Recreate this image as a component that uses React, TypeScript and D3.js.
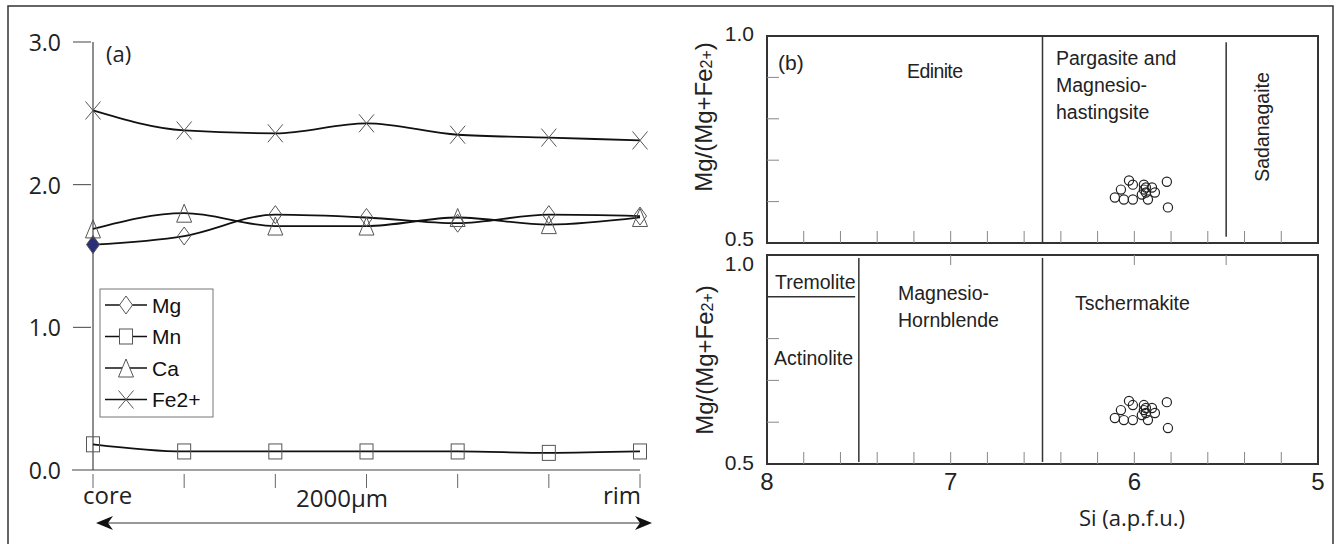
import * as d3 from "d3";

// ---- panel (a): core-to-rim profile ----
const profileSteps = ["core", "", "", "", "", "", "rim"];
const mgValues = [1.58, 1.64, 1.79, 1.77, 1.73, 1.79, 1.78];
const mnValues = [0.18, 0.13, 0.13, 0.13, 0.13, 0.12, 0.13];
const caValues = [1.69, 1.80, 1.71, 1.71, 1.77, 1.72, 1.77];
const feValues = [2.52, 2.38, 2.36, 2.43, 2.35, 2.33, 2.31];
const seriesNames = ["Mg", "Mn", "Ca", "Fe2+"];
const seriesShapes = ["diamond", "square", "triangle", "cross"];
const yTicksA = [0, 1, 2, 3];

// ---- panel (b): amphibole classification ----
const siValues = [6.106, 6.057, 6.008, 6.073, 6.029, 6.008, 5.948, 5.948, 5.937, 5.926, 5.888, 5.904, 5.823, 5.817, 5.959, 5.937];
const mgNumbers = [0.610, 0.605, 0.605, 0.629, 0.651, 0.641, 0.641, 0.629, 0.622, 0.605, 0.622, 0.634, 0.648, 0.586, 0.617, 0.634];
const siTickLabels = [8, 7, 6, 5];
const siMinorTicks = [7.8, 7.6, 7.4, 7.2, 7.0, 6.8, 6.6, 6.4, 6.2, 6.0, 5.8, 5.6, 5.4, 5.2];
const mgMinorTicks = [0.6, 0.7, 0.8, 0.9];

const axisFont = "'Open Sans', 'DejaVu Sans', sans-serif";
const helv = "'Liberation Sans', Arial, sans-serif";

function Marker({ shape, x, y, fill = "none" }: { shape: string; x: number; y: number; fill?: string }) {
  const st = { stroke: "#555", strokeWidth: 1, fill };
  if (shape === "diamond") return <path d={`M${x},${y - 9}L${x + 6.5},${y}L${x},${y + 9}L${x - 6.5},${y}Z`} {...st} />;
  if (shape === "square") return <rect x={x - 6.5} y={y - 7.5} width={13} height={15} {...st} />;
  if (shape === "triangle") return <path d={`M${x},${y - 9}L${x + 7.5},${y + 9}L${x - 7.5},${y + 9}Z`} {...st} />;
  return <path d={`M${x - 7.5},${y - 9}L${x + 7.5},${y + 9}M${x + 7.5},${y - 9}L${x - 7.5},${y + 9}`} stroke="#555" strokeWidth={1} fill="none" />;
}

function PanelA() {
  const x = d3.scalePoint<number>().domain(d3.range(profileSteps.length)).range([93, 640]);
  const y = d3.scaleLinear().domain([0, 3]).range([470, 42]);
  const line = d3.line<number>().x((_, i) => x(i)!).y(d => y(d)).curve(d3.curveMonotoneX);
  const allSeries = [mgValues, mnValues, caValues, feValues];

  return (
    <g>
      {/* axes */}
      <line x1={93} x2={93} y1={y(3)} y2={y(0)} stroke="#444" strokeWidth={1.2} />
      <line x1={72} x2={640} y1={y(0)} y2={y(0)} stroke="#444" strokeWidth={1.2} />
      {yTicksA.map(t => (
        <g key={t}>
          {t > 0 && <line x1={73} x2={91} y1={y(t)} y2={y(t)} stroke="#444" strokeWidth={1} />}
          <text x={61} y={y(t)} textAnchor="end" dominantBaseline="central" fontFamily={axisFont} fontSize={23} fill="#222">
            {t.toFixed(1)}
          </text>
        </g>
      ))}
      {profileSteps.map((s, i) => (
        <line key={i} x1={x(i)} x2={x(i)} y1={474} y2={488} stroke="#666" strokeWidth={1} />
      ))}
      <text x={x(0)! - 10} y={504} fontFamily={axisFont} fontSize={24} fill="#222">{profileSteps[0]}</text>
      <text x={x(6)! + 1} y={504} textAnchor="end" fontFamily={axisFont} fontSize={24} fill="#222">{profileSteps[6]}</text>
      <text x={342} y={507} textAnchor="middle" fontFamily={axisFont} fontSize={24} fill="#222">2000μm</text>
      <text x={106} y={53} dominantBaseline="central" fontFamily={axisFont} fontSize={22} fill="#222">(a)</text>

      {/* double arrow */}
      <line x1={100} x2={648} y1={523} y2={523} stroke="#333" strokeWidth={1.2} />
      <path d="M96,523 L113,516 L108,523 L113,530 Z" fill="#111" />
      <path d="M652,523 L635,516 L640,523 L635,530 Z" fill="#111" />

      {/* lines */}
      {allSeries.map((vals, k) => (
        <path key={k} d={line(vals)!} fill="none" stroke="#111" strokeWidth={1.8} />
      ))}
      {/* markers */}
      {allSeries.map((vals, k) =>
        vals.map((v, i) => (
          <Marker key={`${k}-${i}`} shape={seriesShapes[k]} x={x(i)!} y={y(v)}
            fill={k === 0 && i === 0 ? "#2b2f78" : "none"} />
        ))
      )}

      {/* legend */}
      <rect x={100} y={289} width={113} height={128} fill="white" stroke="#777" strokeWidth={1} />
      {seriesNames.map((n, k) => {
        const ly = 305 + k * 31.5;
        return (
          <g key={n}>
            <line x1={105} x2={147} y1={ly} y2={ly} stroke="#111" strokeWidth={1.3} />
            <Marker shape={seriesShapes[k]} x={126} y={ly} fill={k === 3 ? "none" : "white"} />
            <text x={152} y={ly} dominantBaseline="central" fontFamily={helv} fontSize={21} fill="#111">{n}</text>
          </g>
        );
      })}
    </g>
  );
}

function YTitle({ cx, cy }: { cx: number; cy: number }) {
  return (
    <text transform={`translate(${cx},${cy}) rotate(-90)`} textAnchor="middle" dominantBaseline="central"
      fontFamily={helv} fontSize={24} fill="#222">
      Mg/(Mg+Fe<tspan fontSize={16} dy={3}>2+</tspan><tspan dy={-3}>)</tspan>
    </text>
  );
}

function PanelB() {
  const x = d3.scaleLinear().domain([8, 5]).range([767, 1318]);
  const yTop = d3.scaleLinear().domain([0.5, 1]).range([243, 36]);
  const yBot = d3.scaleLinear().domain([0.5, 1]).range([464, 255]);
  const pts = siValues.map((s, i) => [s, mgNumbers[i]]);
  const boxStroke = "#333";
  const tickStroke = "#888";
  const labelProps = { fontFamily: helv, fontSize: 19.5, fill: "#222" };

  return (
    <g>
      {/* top box */}
      <rect x={x(8)} y={yTop(1)} width={x(5) - x(8)} height={yTop(0.5) - yTop(1)} fill="none" stroke={boxStroke} strokeWidth={2} />
      {siMinorTicks.map(t => (
        <line key={t} x1={x(t)} x2={x(t)} y1={yTop(0.5)} y2={yTop(0.5) - 12} stroke={tickStroke} />
      ))}
      {mgMinorTicks.map(t => (
        <line key={t} x1={x(8)} x2={x(8) + 12} y1={yTop(t)} y2={yTop(t)} stroke={tickStroke} />
      ))}
      <line x1={x(6.5)} x2={x(6.5)} y1={yTop(1)} y2={yTop(0.5)} stroke={boxStroke} strokeWidth={1.5} />
      <line x1={x(5.5)} x2={x(5.5)} y1={yTop(0.985)} y2={yTop(0.515)} stroke={boxStroke} strokeWidth={1.5} />
      <text x={778} y={62} dominantBaseline="central" fontFamily={helv} fontSize={21} fill="#222">(b)</text>
      <text x={907} y={71} dominantBaseline="central" {...labelProps} letterSpacing={-0.6}>Edinite</text>
      <text x={1056} y={58} dominantBaseline="central" {...labelProps}>Pargasite and</text>
      <text x={1056} y={85} dominantBaseline="central" {...labelProps}>Magnesio-</text>
      <text x={1056} y={112} dominantBaseline="central" {...labelProps}>hastingsite</text>
      <text transform={`translate(1262,127) rotate(-90)`} textAnchor="middle" dominantBaseline="central" {...labelProps}>Sadanagaite</text>
      <text x={754} y={yTop(1) - 3} textAnchor="end" dominantBaseline="central" fontFamily={helv} fontSize={21} fill="#222">1.0</text>
      <text x={754} y={yTop(0.5) - 5} textAnchor="end" dominantBaseline="central" fontFamily={helv} fontSize={21} fill="#222">0.5</text>
      <YTitle cx={703} cy={117} />
      {pts.map((p, i) => (
        <circle key={i} cx={x(p[0])} cy={yTop(p[1])} r={4.6} fill="none" stroke="#222" strokeWidth={1.2} />
      ))}

      {/* bottom box */}
      <rect x={x(8)} y={yBot(1)} width={x(5) - x(8)} height={yBot(0.5) - yBot(1)} fill="none" stroke={boxStroke} strokeWidth={2} />
      {siMinorTicks.map(t => (
        <line key={t} x1={x(t)} x2={x(t)} y1={yBot(0.5)} y2={yBot(0.5) - 12} stroke={tickStroke} />
      ))}
      {[7.0, 6.0, 5.5].map(t => (
        <line key={t} x1={x(t)} x2={x(t)} y1={yBot(1)} y2={yBot(1) + 10} stroke={tickStroke} />
      ))}
      {mgMinorTicks.slice(0, 3).map(t => (
        <line key={t} x1={x(8)} x2={x(8) + 12} y1={yBot(t)} y2={yBot(t)} stroke={tickStroke} />
      ))}
      <line x1={x(7.5)} x2={x(7.5)} y1={yBot(0.993)} y2={yBot(0.505)} stroke={boxStroke} strokeWidth={1.5} />
      <line x1={x(6.5)} x2={x(6.5)} y1={yBot(0.993)} y2={yBot(0.505)} stroke={boxStroke} strokeWidth={1.5} />
      <line x1={x(8)} x2={x(7.52)} y1={yBot(0.9)} y2={yBot(0.9)} stroke={boxStroke} strokeWidth={1.5} />
      <text x={775} y={282} dominantBaseline="central" {...labelProps}>Tremolite</text>
      <text x={774} y={358} dominantBaseline="central" {...labelProps}>Actinolite</text>
      <text x={898} y={293} dominantBaseline="central" {...labelProps}>Magnesio-</text>
      <text x={898} y={320} dominantBaseline="central" {...labelProps}>Hornblende</text>
      <text x={1075} y={303} dominantBaseline="central" {...labelProps}>Tschermakite</text>
      <text x={754} y={yBot(1) + 8} textAnchor="end" dominantBaseline="central" fontFamily={helv} fontSize={21} fill="#222">1.0</text>
      <text x={754} y={yBot(0.5) - 2} textAnchor="end" dominantBaseline="central" fontFamily={helv} fontSize={21} fill="#222">0.5</text>
      <YTitle cx={704} cy={360} />
      {pts.map((p, i) => (
        <circle key={i} cx={x(p[0])} cy={yBot(p[1])} r={4.6} fill="none" stroke="#222" strokeWidth={1.2} />
      ))}

      {siTickLabels.map(t => (
        <text key={t} x={x(t)} y={481} textAnchor="middle" dominantBaseline="central" fontFamily={helv} fontSize={24} fill="#222">{t}</text>
      ))}
      <text x={1132} y={517} textAnchor="middle" dominantBaseline="central" fontFamily={axisFont} fontSize={22} fill="#222">Si (a.p.f.u.)</text>
    </g>
  );
}

export default function App() {
  return (
    <svg width={1340} height={544} style={{ position: "absolute", left: 0, top: 0, background: "white" }}>
      <rect x={0} y={0} width={1340} height={544} fill="white" />
      <rect x={8} y={6} width={1325} height={560} fill="none" stroke="#333" strokeWidth={1.5} />
      <PanelA />
      <PanelB />
    </svg>
  );
}
